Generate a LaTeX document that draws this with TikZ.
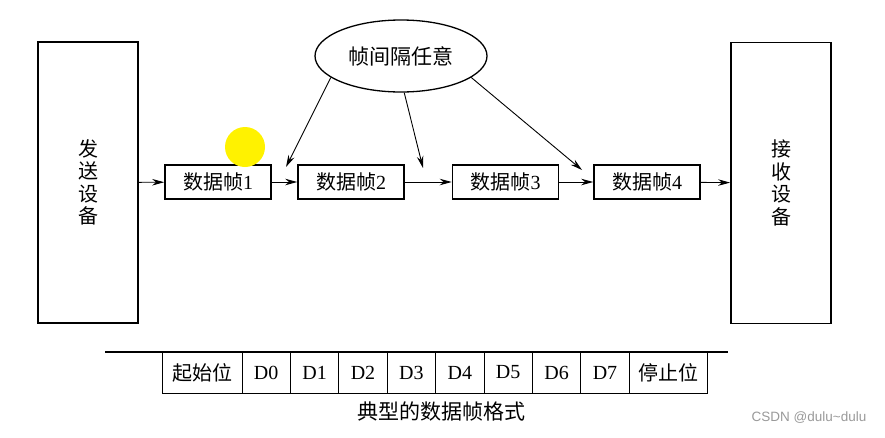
\documentclass[tikz,border=0pt]{standalone}
\usepackage{fontspec}
\setmainfont{Liberation Serif}
\newfontfamily\cjk{Noto Sans CJK SC}
\newfontfamily\markfont{Liberation Sans}
\usetikzlibrary{arrows.meta}
\usetikzlibrary{shapes.geometric}

\begin{document}
\begin{tikzpicture}[x=1pt,y=-1pt,
device/.style={draw, line width=1.8pt, minimum width=100pt, minimum height=281pt, inner sep=0pt, align=center, font=\cjk\fontsize{20}{22.5}\selectfont},
frame/.style={draw, line width=1.6pt, minimum width=106pt, minimum height=34pt, inner sep=0pt, font=\fontsize{20}{20}\selectfont},
cell/.style={draw, line width=1pt, minimum height=41pt, inner sep=0pt, font=\fontsize{20}{20}\selectfont},
link/.style={-{Stealth[length=12pt,width=6.5pt]}, line width=0.9pt}]
\useasboundingbox (0,0) rectangle (885,437);
% draws devices
\node[device] (send) at (88,182.5) {发\\送\\设\\备};
\node[device] (recv) at (781,183) {接\\收\\设\\备};
% draws frames
\node[frame] (f1) at (218,182) {{\cjk 数据帧}1};
\node[frame] (f2) at (351,182) {{\cjk 数据帧}2};
\node[frame] (f3) at (505.5,182) {{\cjk 数据帧}3};
\node[frame] (f4) at (647,182) {{\cjk 数据帧}4};
% draws edges
\draw[link] (send) -- (f1);
\draw[link] (f1) -- (f2);
\draw[link] (f2) -- (f3);
\draw[link] (f3) -- (f4);
\draw[link] (f4) -- (recv);
% gap note
\node[ellipse, draw, line width=1.3pt, minimum width=172pt, minimum height=72pt, inner sep=0pt, font=\cjk\fontsize{21}{21}\selectfont] (gap) at (401,56) {帧间隔任意};
\coordinate (t1) at (286,167);
\coordinate (t2) at (423,168);
\coordinate (t3) at (582,170);
\draw[link] (gap.197) -- (t1);
\draw[link] (gap.275) -- (t2);
\draw[link] (gap.343) -- (t3);
% highlight
\fill[yellow] (245,147) circle (20pt);
% frame format
\draw[line width=1.6pt] (105,352) -- (728,352);
\node[cell, minimum width=80pt, font=\cjk\fontsize{20}{20}\selectfont] (start) at (202,372.5) {起始位};
\foreach \i in {0,...,7}
\node[cell, minimum width=48.4pt] (d\i) at ({266.2+48.4*\i},372.5) {D\i};
\node[cell, minimum width=78pt, font=\cjk\fontsize{20}{20}\selectfont] (stop) at (668,372.5) {停止位};
\node[font=\cjk\fontsize{21}{21}\selectfont] (caption) at (441,411) {典型的数据帧格式};
% watermark
\node[font=\markfont\fontsize{13.5}{13.5}\selectfont, text=gray!80] (mark) at (809,418) {CSDN @dulu\textasciitilde dulu};
\end{tikzpicture}
\end{document}
